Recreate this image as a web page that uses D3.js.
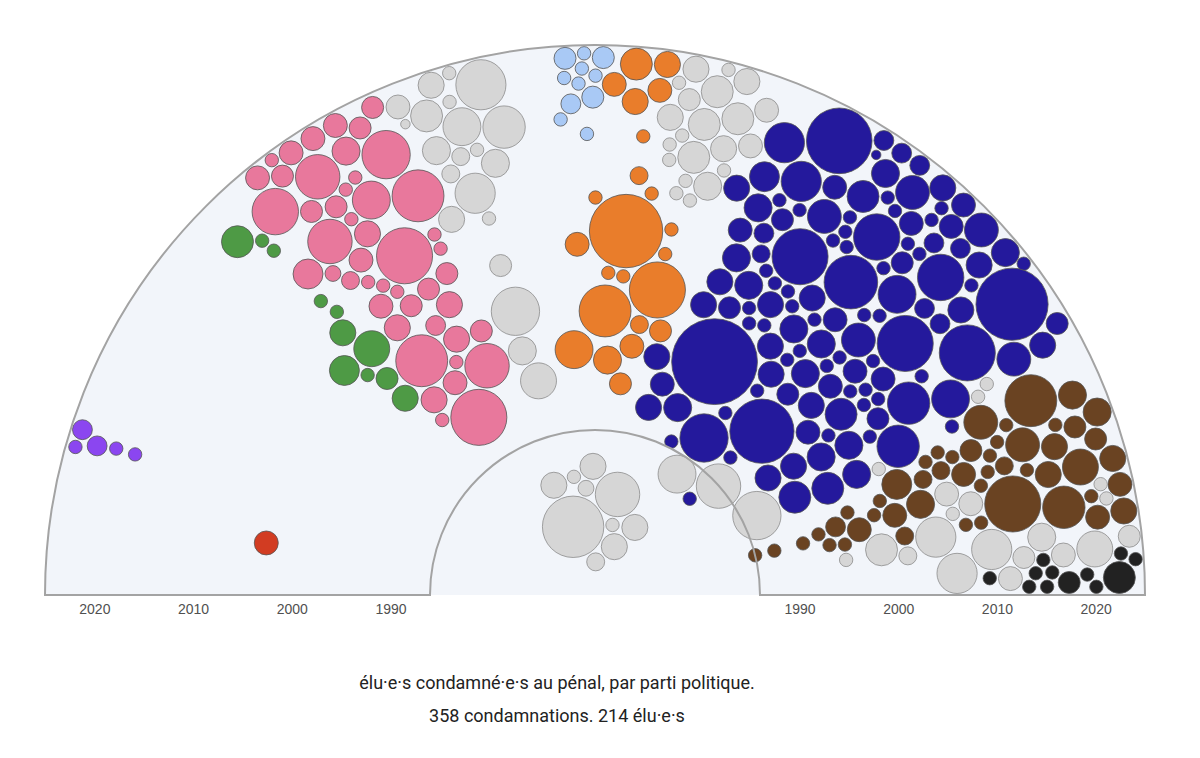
<!DOCTYPE html>
<html lang="fr">
<head>
  <meta charset="UTF-8">
  <title>Élu·e·s condamné·e·s au pénal</title>
  <script src="https://d3js.org/d3.v7.min.js"></script>
  <style>
    body { margin: 0; background: #fff; }
    .axe .tick text { font-family: "Liberation Sans", Arial, sans-serif; font-size: 14px; fill: #505050; }
    .titre { font-family: Roboto, sans-serif; font-size: 18px; fill: #222; text-anchor: middle; }
  </style>
</head>
<body>
  <svg id="chart"></svg>

  <script>
    // une bulle = une condamnation : année (distance au centre) et poids (surface)
    const anneesLFI = [2024, 2024, 2022, 2020, 2018];
    const poidsLFI = [2.2, 1, 2.2, 1, 1];

    const anneesPCF = [2003];
    const poidsPCF = [3.2];

    const anneesEELV = [2020, 2020, 2017, 2010, 2008, 2006, 2003, 2002, 2003, 2000, 1997];
    const poidsEELV = [1, 5.7, 1, 1, 1, 3.8, 7.2, 1, 5, 2.7, 3.8];

    const anneesPS = [2024, 2023, 2024, 2019, 2024, 2024, 2020, 2022, 2024, 2017, 2017, 2015, 2014, 2018,
      2020, 2023, 2017, 2015, 2013, 2023, 2016, 2009, 2013, 2011, 2007, 2006, 2013, 2010, 2009, 2008,
      2005, 2005, 2002, 2008, 2006, 2004, 2002, 1999, 2000, 1998, 1999, 1995, 1996, 1995, 1995, 1993, 1991];
    const poidsPS = [3.2, 2.7, 3.2, 13, 3.2, 3.2, 12, 1, 2.7, 2.7, 1, 1, 15, 2.7,
      11, 4.4, 1, 11, 1.4, 2.7, 8, 17.5, 3.2, 3.8, 1, 1, 5, 1.8, 1, 1,
      2.7, 2.7, 3.8, 1, 3.2, 2.7, 3.8, 3.8, 2.2, 2.7, 15, 11, 1, 3.2, 3.8, 1, 17.5];

    const anneesAutresGauche = [2022, 2024, 2024, 2022, 2021, 2021, 2019, 2017, 2017, 2016, 2017,
      2015, 2012, 2014, 2011, 2009, 2021, 2004, 1999, 1995, 1992];
    const poidsAutresGauche = [14, 1, 3.8, 3.2, 5.7, 1, 8, 4.4, 10, 1, 1.8,
      4.4, 9, 1.8, 3.8, 1, 0.5, 2.7, 13, 4.4, 7.2];

    const anneesRenaissance = [2024, 2024, 2024, 2022, 2023, 2022, 2021, 2020, 2019, 2018, 2016];
    const poidsRenaissance = [2.7, 1, 2.7, 1, 1, 1, 1, 2.7, 2.2, 1, 1];

    const anneesMoDem = [2024, 2023, 2021, 2020, 2021, 2016, 2012, 2010, 2009, 2007, 2006, 2005,
      2001, 2002, 2002, 2003, 1998, 1997, 1997, 1994, 1994, 1995, 1991];
    const poidsMoDem = [3.8, 5.7, 3.2, 3.8, 3.2, 1, 1.8, 1, 1, 1, 30, 3.2,
      17.5, 1, 1, 1, 15, 1.8, 2.7, 4.4, 8, 3.2, 2.7];

    const anneesAutresCentre = [2021, 2024, 2022, 2024, 2023, 2024, 2020, 2018, 2017, 2020, 2018,
      2018, 2017, 2015, 2015, 2015, 2014, 2013, 2012, 2011, 2011];
    const poidsAutresCentre = [3.2, 3.8, 5.7, 1, 1, 3.8, 2.7, 3.2, 3.8, 5.7, 5.7,
      3.8, 1, 5.7, 1, 1, 1, 4.4, 1, 1, 1];

    const anneesLR = [2021, 2024, 2024, 2023, 2021, 2024, 2019, 2020, 2023, 2024, 2018, 2015, 2015,
      2012, 2012, 2020, 2022, 2023, 2024, 2018, 2016, 2013, 2010, 2020, 2023, 2024, 2008, 2010,
      2013, 2015, 2017, 2020, 2020, 2015, 2023, 2024, 2006, 2011, 2014, 2017, 2019, 2017, 2021,
      2002, 2006, 2006, 2008, 2012, 2013, 2018, 2019, 2002, 2004, 2006, 2007, 2008, 2009, 2011,
      2015, 2019, 2020, 1999, 2001, 2004, 2004, 2002, 1999,
      1996, 1999, 1999, 2001, 2002, 2004, 2007, 2006, 2009, 2010, 2008, 2009, 2010, 2016, 2017,
      1992, 1994, 1998, 2000, 1997, 2000, 2002, 2001, 2003, 2005, 2006, 2008, 2011, 2015, 2000,
      2001, 2005, 2006, 2008, 2015, 1995, 1997, 1999, 2002, 2002, 2006, 2011, 2009, 2005, 1997,
      1990, 1988, 1987, 1990, 1992, 1995, 1990, 1992, 1997, 2003, 2003, 1990, 1983];
    const poidsLR = [24, 2.2, 3.2, 0.5, 2.7, 2.2, 3.2, 12, 6.4, 2.2, 1, 12, 4.4,
      3.8, 2.7, 3.2, 1, 3.8, 1, 1, 9, 1, 1, 4.4, 4.4, 3.2, 3.2, 17.5,
      1, 1, 6.4, 1, 3.8, 1, 6.4, 2.2, 6.4, 17.5, 2.7, 9, 1, 1, 3.8,
      3.8, 3.8, 1, 1, 1, 3.8, 1, 5.7, 5.7, 4.4, 4.4, 4.4, 1, 3.2, 1,
      17.5, 6.4, 29, 3.8, 1, 1, 1, 1, 2.7,
      5.7, 3.8, 4.4, 1, 3.8, 4.4, 1.8, 3.2, 2.2, 2.2, 1, 1, 2.2, 1, 2.2,
      5.7, 23, 1, 2.7, 3.2, 3.2, 1, 1, 3.8, 1, 1, 3.2, 8, 8, 1,
      1, 3.8, 1, 1, 5, 3.8, 3.8, 4.4, 2.7, 4.4, 10, 16, 1, 1, 1,
      1, 1, 1, 4.4, 3.8, 4.4, 3.8, 3.2, 41, 1, 10, 13, 1];

    const anneesAutresDroite = [1988, 1986, 1985, 2012, 2000, 2012];
    const poidsAutresDroite = [13, 11, 8, 1, 1, 1];

    const anneesRN = [1986, 1988, 1991, 1993, 1994, 1995, 1996, 1995, 1997, 1999, 2001, 2001, 2001,
      2004, 2003, 2006, 2007, 2007, 2005, 2008, 2009, 2012, 2011, 2012, 2009, 2011, 2010, 2015,
      2013, 2013, 2015, 2018, 2016, 2018, 2021, 2024, 2022, 2022, 2024, 2016, 2017, 2020, 2023,
      2021, 2024, 2019, 2023, 2021, 2019];
    const poidsRN = [1, 1, 1, 1, 1, 1, 1, 2.2, 3.2, 1, 1.8, 1, 3.2,
      4.4, 5, 1, 1, 1.8, 1.8, 1, 3.2, 2.7, 1, 1, 1, 1, 1, 6.4,
      17.5, 6.4, 1, 3.8, 1, 15, 4.4, 3.8, 3.2, 1, 3.8, 1.8, 1, 7.2, 4.4,
      2.7, 3.2, 3.8, 2.7, 1, 10];

    const anneesExtremeDroite = [2024, 2024, 2021, 2023, 2010, 2016, 2016, 2013, 2014, 2016, 2018, 2019];
    const poidsExtremeDroite = [1, 1, 1, 5.7, 1, 1, 1, 1, 1, 1, 2.7, 1];

    const anneesAutresExtDroite = [2007, 2006, 2009, 2001, 2024, 2014, 2022, 2016, 1999, 1995, 2007,
      2005, 2009, 2012, 2015, 2021, 2024];
    const poidsAutresExtDroite = [3.2, 1, 3.2, 1.8, 2.7, 2.7, 1, 3.2, 5.7, 1, 9,
      9, 9, 3.2, 4.4, 7.2, 1];

    // condamnations sans année connue (au centre)
    const poidsInconnue = [3.8, 1.8, 11, 21, 1, 3.8, 3.8, 1, 1.4, 3.8];

    const ticksAnnees = [1990, 2000, 2010, 2020];

    const groupes = [
      { parti: "LFI", annees: anneesLFI, poids: poidsLFI },
      { parti: "PCF", annees: anneesPCF, poids: poidsPCF },
      { parti: "EELV", annees: anneesEELV, poids: poidsEELV },
      { parti: "PS", annees: anneesPS, poids: poidsPS },
      { parti: "Autres gauche", annees: anneesAutresGauche, poids: poidsAutresGauche },
      { parti: "Renaissance", annees: anneesRenaissance, poids: poidsRenaissance },
      { parti: "MoDem", annees: anneesMoDem, poids: poidsMoDem },
      { parti: "Autres centre", annees: anneesAutresCentre, poids: poidsAutresCentre },
      { parti: "LR", annees: anneesLR, poids: poidsLR },
      { parti: "Autres droite", annees: anneesAutresDroite, poids: poidsAutresDroite },
      { parti: "RN", annees: anneesRN, poids: poidsRN },
      { parti: "Extrême droite", annees: anneesExtremeDroite, poids: poidsExtremeDroite },
      { parti: "Autres ext. droite", annees: anneesAutresExtDroite, poids: poidsAutresExtDroite },
      { parti: "Inconnue", annees: null, poids: poidsInconnue }
    ];

    // mise en page : angle de chaque parti dans l'hémicycle (degrés, 180 = gauche)
    const secteurs = {
      "LFI": 163, "PCF": 171, "EELV": 133, "PS": 122, "Autres gauche": 106,
      "Renaissance": 91, "MoDem": 84, "Autres centre": 76, "LR": 48,
      "Autres droite": 40, "RN": 14, "Extrême droite": 5, "Autres ext. droite": 10,
      "Inconnue": 92
    };

    const gris = "#d6d6d6";
    const couleurs = {
      "LFI": "#8b46f0", "PCF": "#d23c22", "EELV": "#4e9a45", "PS": "#e8789c",
      "Autres gauche": gris, "Renaissance": "#a9c9f5", "MoDem": "#e97d2b",
      "Autres centre": gris, "LR": "#24199c", "Autres droite": gris, "RN": "#6a4322",
      "Extrême droite": "#222222", "Autres ext. droite": gris, "Inconnue": gris
    };

    const width = 1200;
    const height = 758;
    const cx = 595;
    const cy = 595;
    const outerR = 550;
    const innerR = 165;

    const svg = d3.select("#chart")
      .attr("width", width)
      .attr("height", height);

    const yearScale = d3.scaleLinear()
      .domain([1986, 2025])
      .range([innerR, outerR]);

    const rScale = d3.scaleSqrt()
      .domain([0, 1])
      .range([0, 6.7]);

    const nodes = [];
    groupes.forEach(g => {
      g.poids.forEach((p, i) => {
        nodes.push({ parti: g.parti, annee: g.annees ? g.annees[i] : null, poids: p });
      });
    });

    nodes.forEach((d, i) => {
      d.r = rScale(d.poids);
      d.tr = d.annee == null ? 82 : yearScale(d.annee);
      d.ta = secteurs[d.parti] * Math.PI / 180;
      const a = d.ta + ((i % 9) - 4) * 0.006;
      d.x = d.tr * Math.cos(a);
      d.y = -d.tr * Math.sin(a);
    });

    // rayon = année, angle = parti ; sans année : attirées vers un point au centre
    function forcePolaire(kr, ka) {
      let ns;
      function force(alpha) {
        for (const d of ns) {
          if (d.annee == null) {
            d.vx += (d.tr * Math.cos(d.ta) - d.x) * kr * alpha;
            d.vy += (-d.tr * Math.sin(d.ta) - d.y) * kr * alpha;
            continue;
          }
          const r = Math.hypot(d.x, d.y) || 1e-6;
          const a = Math.atan2(-d.y, d.x);
          const dr = (d.tr - r) * kr * alpha;
          d.vx += d.x / r * dr;
          d.vy += d.y / r * dr;
          const ds = (d.ta - a) * r * ka * alpha;
          d.vx += -Math.sin(a) * ds;
          d.vy += -Math.cos(a) * ds;
        }
      }
      force.initialize = n => { ns = n; };
      return force;
    }

    function borner() {
      for (const d of nodes) {
        const r = Math.hypot(d.x, d.y);
        const rmax = outerR - d.r - 1.5;
        if (r > rmax) { d.x *= rmax / r; d.y *= rmax / r; }
        if (d.y > -d.r - 1.5) d.y = -d.r - 1.5;
      }
    }

    const sim = d3.forceSimulation(nodes)
      .force("polaire", forcePolaire(0.25, 0.03))
      .force("collide", d3.forceCollide(d => d.r + 1).strength(1).iterations(4))
      .alphaDecay(0.01)
      .stop();

    for (let i = 0; i < 500; i++) {
      sim.tick();
      borner();
    }

    const g = svg.append("g").attr("transform", `translate(${cx}, ${cy})`);

    const demi = d3.arc()
      .innerRadius(0)
      .outerRadius(outerR)
      .startAngle(-Math.PI / 2)
      .endAngle(Math.PI / 2);

    g.append("path")
      .attr("d", demi())
      .attr("fill", "#f2f5fa");

    g.selectAll("circle")
      .data(nodes)
      .enter()
      .append("circle")
      .attr("cx", d => d.x)
      .attr("cy", d => d.y)
      .attr("r", d => d.r)
      .attr("fill", d => couleurs[d.parti])
      .attr("stroke", d => couleurs[d.parti] === gris ? "#8c8c8c" : "#555")
      .attr("stroke-opacity", 0.8)
      .attr("stroke-width", 1);

    const contour = d3.path();
    contour.moveTo(-outerR, 0);
    contour.arc(0, 0, outerR, Math.PI, 0);
    contour.lineTo(innerR, 0);
    contour.arc(0, 0, innerR, 0, Math.PI, true);
    contour.closePath();

    g.append("path")
      .attr("d", contour.toString())
      .attr("fill", "none")
      .attr("stroke", "#a3a3a3")
      .attr("stroke-width", 2);

    const xGauche = d3.scaleLinear()
      .domain(yearScale.domain())
      .range([cx - innerR, cx - outerR]);
    const xDroite = d3.scaleLinear()
      .domain(yearScale.domain())
      .range([cx + innerR, cx + outerR]);

    [xGauche, xDroite].forEach(sc => {
      const axe = svg.append("g")
        .attr("class", "axe")
        .attr("transform", `translate(0, ${cy})`)
        .call(d3.axisBottom(sc)
          .tickValues(ticksAnnees)
          .tickFormat(d3.format("d"))
          .tickSize(0)
          .tickPadding(9));
      axe.select(".domain").remove();
    });

    svg.append("text")
      .attr("class", "titre")
      .attr("x", 557)
      .attr("y", 689)
      .text("élu·e·s condamné·e·s au pénal, par parti politique.");

    svg.append("text")
      .attr("class", "titre")
      .attr("x", 557)
      .attr("y", 722)
      .text("358 condamnations. 214 élu·e·s");
  </script>
</body>
</html>
